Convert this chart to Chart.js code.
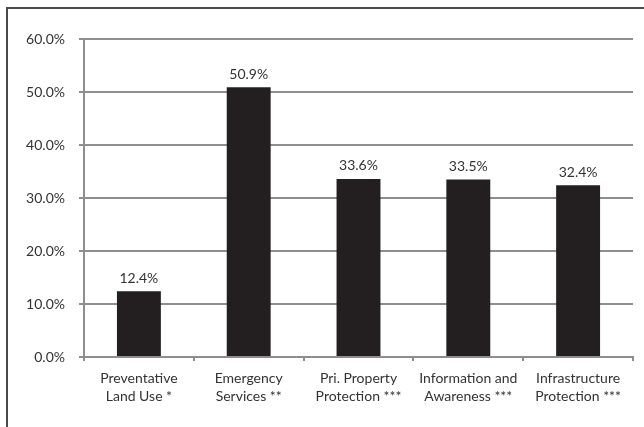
<!DOCTYPE html>
<html>
<head>
<meta charset="utf-8">
<script src="https://cdn.jsdelivr.net/npm/chart.js@4/dist/chart.umd.min.js"></script>
<style>
  html, body { margin: 0; padding: 0; background: #fff; }
  #wrap { position: relative; width: 644px; height: 427px; }
  #frame { position: absolute; left: 6px; top: 7px; right: 0; bottom: 0;
           border-left: 2px solid #4a4a4a; border-top: 2px solid #4a4a4a; }
  canvas { position: absolute; left: 0; top: 0; }
</style>
</head>
<body>
<div id="wrap">
  <div id="frame"></div>
  <canvas id="chart" width="644" height="427"></canvas>
</div>
<script>
const categories = [
  ['Preventative', 'Land Use *'],
  ['Emergency', 'Services **'],
  ['Pri. Property', 'Protection ***'],
  ['Information and', 'Awareness ***'],
  ['Infrastructure', 'Protection ***']
];
const values = [12.4, 50.9, 33.6, 33.5, 32.4];
const yTicks = [0, 10, 20, 30, 40, 50, 60];

const FONT = 'Lato, "Open Sans", sans-serif';
const gridColor = '#8e8e8e';

// value labels above each bar
const barLabels = {
  id: 'barLabels',
  afterDatasetsDraw(chart) {
    const ctx = chart.ctx;
    const meta = chart.getDatasetMeta(0);
    ctx.save();
    ctx.font = '14px ' + FONT;
    ctx.fillStyle = '#333';
    ctx.textAlign = 'center';
    ctx.textBaseline = 'bottom';
    meta.data.forEach((bar, i) => {
      ctx.fillText(values[i].toFixed(1) + '%', bar.x, bar.y - 6);
    });
    ctx.restore();
  }
};

new Chart(document.getElementById('chart'), {
  type: 'bar',
  data: {
    labels: categories,
    datasets: [{
      data: values,
      backgroundColor: '#231f20',
      borderWidth: 0,
      barPercentage: 0.4,
      categoryPercentage: 1
    }]
  },
  options: {
    responsive: false,
    animation: false,
    layout: { padding: { left: 0, right: 11, top: 39, bottom: 0 } },
    plugins: { legend: { display: false }, tooltip: { enabled: false } },
    scales: {
      x: {
        grid: { display: true, offset: true, drawOnChartArea: false, color: gridColor, lineWidth: 2, tickLength: 4 },
        border: { color: gridColor, width: 2 },
        ticks: { color: '#333', font: { family: FONT, size: 14, lineHeight: 1.25 }, padding: 9, maxRotation: 0, autoSkip: false },
        afterFit(scale) { scale.height = 70; }
      },
      y: {
        min: 0,
        max: 60,
        grid: { color: gridColor, lineWidth: 2, tickLength: 5 },
        border: { color: gridColor, width: 2 },
        afterBuildTicks(scale) { scale.ticks = yTicks.map(v => ({ value: v })); },
        ticks: {
          color: '#333',
          font: { family: FONT, size: 14 },
          padding: 14,
          callback: v => v.toFixed(1) + '%'
        },
        afterFit(scale) { scale.width = 84; }
      }
    }
  },
  plugins: [barLabels]
});
</script>
</body>
</html>
